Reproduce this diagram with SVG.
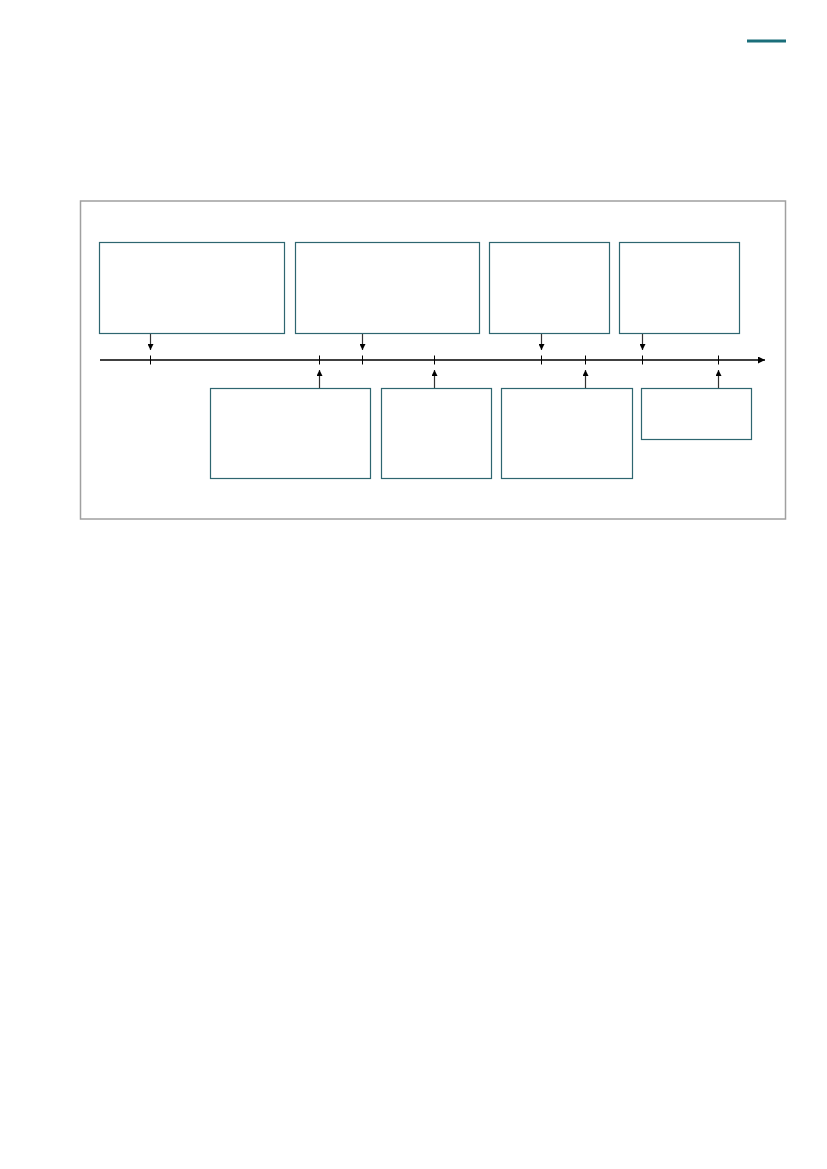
<svg xmlns="http://www.w3.org/2000/svg" width="827" height="1169" viewBox="0 0 827 1169">
<style>
.box{fill:#fff;stroke:#2e6670;stroke-width:1.2}
.frame{fill:#fff;stroke:#a0a0a0;stroke-width:1.5}
.axis{stroke:#000;stroke-width:1.3;fill:none}
.tick{stroke:#000;stroke-width:1}
.conn{stroke:#333;stroke-width:1.2;fill:none}
</style>
<defs>
<marker id="ah" viewBox="0 0 10 10" refX="10" refY="5" markerWidth="6" markerHeight="6" markerUnits="userSpaceOnUse" orient="auto">
<path d="M0,0 L10,5 L0,10 Z" fill="#000"/>
</marker>
<marker id="axh" viewBox="0 0 10 10" refX="10" refY="5" markerWidth="8" markerHeight="7" markerUnits="userSpaceOnUse" orient="auto">
<path d="M0,0 L10,5 L0,10 Z" fill="#000"/>
</marker>
</defs>
<rect width="827" height="1169" fill="#fff"/>
<line x1="747" y1="41" x2="786" y2="41" stroke="#1a6e7a" stroke-width="3"/>
<rect class="frame" x="80.5" y="201" width="705" height="318"/>
<g id="timeline">
<line class="axis" x1="100" y1="360" x2="765" y2="360" marker-end="url(#axh)"/>
<g class="tick">
<line x1="150.5" y1="355.5" x2="150.5" y2="364.5"/>
<line x1="319.5" y1="355.5" x2="319.5" y2="364.5"/>
<line x1="362.5" y1="355.5" x2="362.5" y2="364.5"/>
<line x1="434.5" y1="355.5" x2="434.5" y2="364.5"/>
<line x1="541.5" y1="355.5" x2="541.5" y2="364.5"/>
<line x1="585.5" y1="355.5" x2="585.5" y2="364.5"/>
<line x1="642.5" y1="355.5" x2="642.5" y2="364.5"/>
<line x1="718.5" y1="355.5" x2="718.5" y2="364.5"/>
</g>
</g>
<g id="box1"><rect class="box" x="99.5" y="242.5" width="185" height="91"/></g>
<g id="box2"><rect class="box" x="295.5" y="242.5" width="184" height="91"/></g>
<g id="box3"><rect class="box" x="489.5" y="242.5" width="120" height="91"/></g>
<g id="box4"><rect class="box" x="619.5" y="242.5" width="120" height="91"/></g>
<g id="box5"><rect class="box" x="210.5" y="388.5" width="160" height="90"/></g>
<g id="box6"><rect class="box" x="381.5" y="388.5" width="110" height="90"/></g>
<g id="box7"><rect class="box" x="501.5" y="388.5" width="131" height="90"/></g>
<g id="box8"><rect class="box" x="641.5" y="388.5" width="110" height="51"/></g>
<g id="connectors">
<line class="conn" x1="150.5" y1="334" x2="150.5" y2="350" marker-end="url(#ah)"/>
<line class="conn" x1="362.5" y1="334" x2="362.5" y2="350" marker-end="url(#ah)"/>
<line class="conn" x1="541.5" y1="334" x2="541.5" y2="350" marker-end="url(#ah)"/>
<line class="conn" x1="642.5" y1="334" x2="642.5" y2="350" marker-end="url(#ah)"/>
<line class="conn" x1="319.5" y1="388" x2="319.5" y2="370" marker-end="url(#ah)"/>
<line class="conn" x1="434.5" y1="388" x2="434.5" y2="370" marker-end="url(#ah)"/>
<line class="conn" x1="585.5" y1="388" x2="585.5" y2="370" marker-end="url(#ah)"/>
<line class="conn" x1="718.5" y1="388" x2="718.5" y2="370" marker-end="url(#ah)"/>
</g>
</svg>
